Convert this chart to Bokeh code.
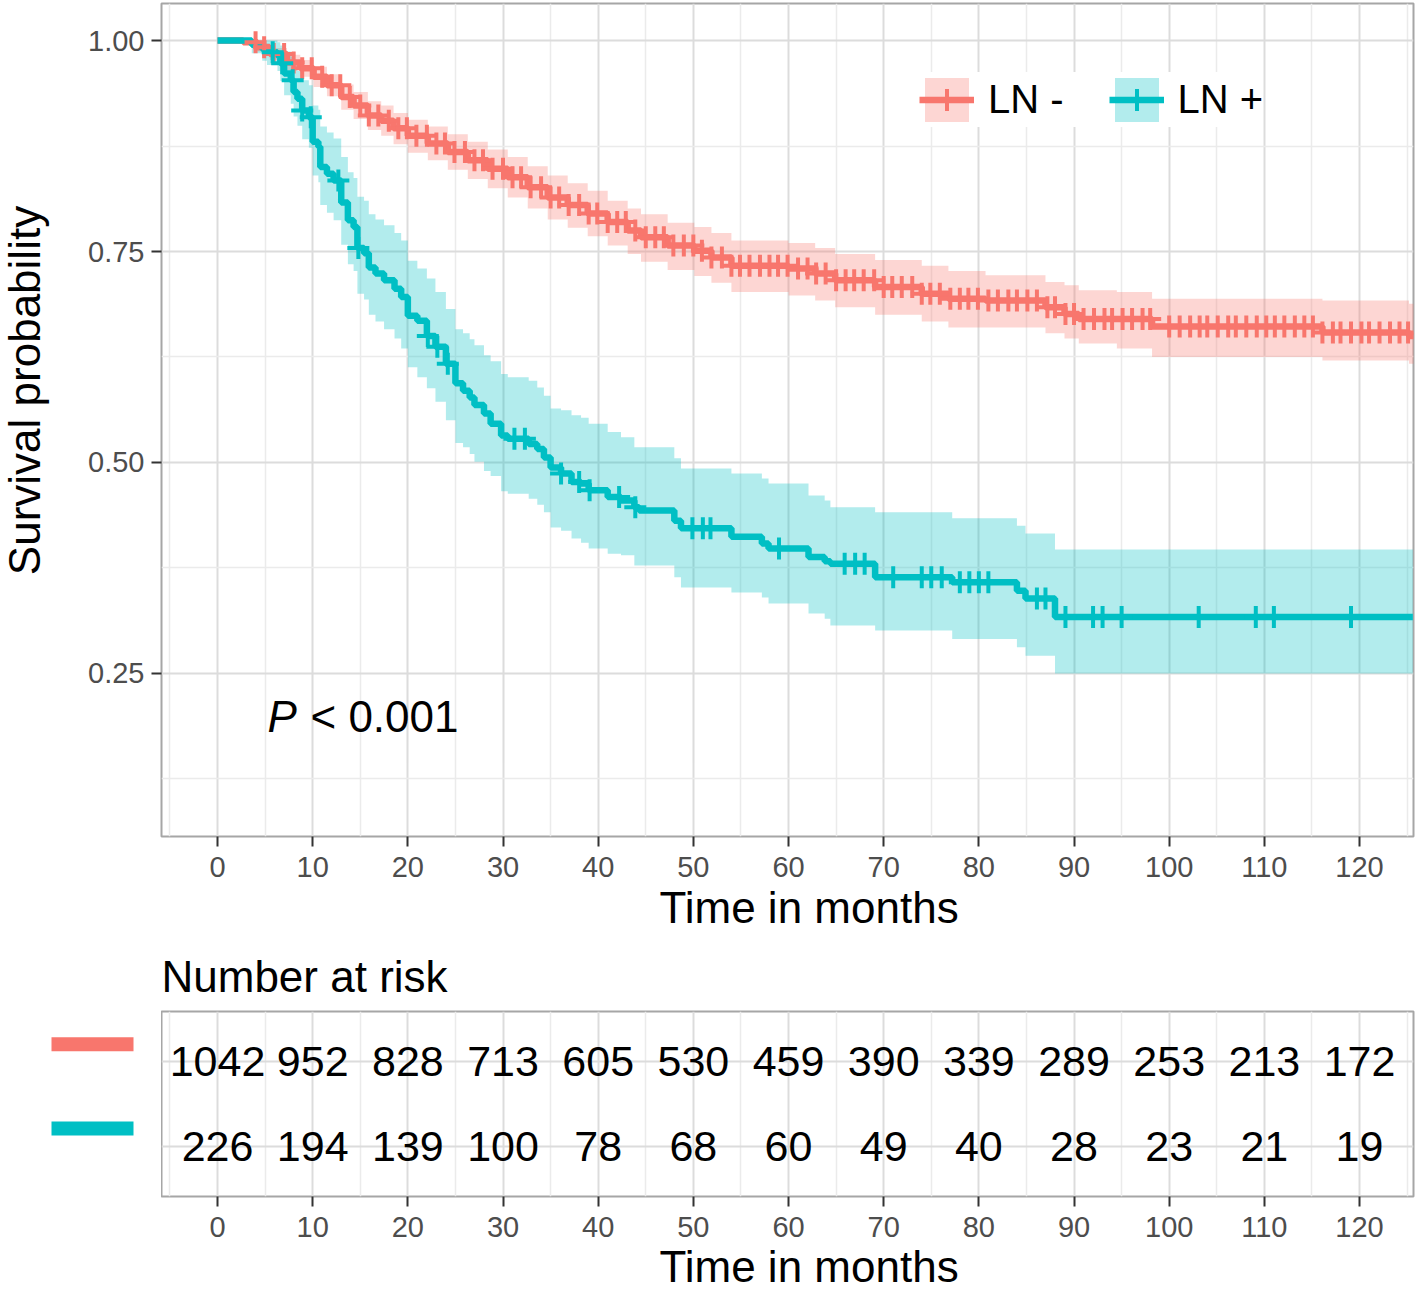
import numpy as np
from bokeh.plotting import figure
from bokeh.models import (ColumnDataSource, Range1d, FactorRange, FixedTicker, CategoricalTicker,
                          Legend, LegendItem, Label, Title, NumeralTickFormatter)
from bokeh.layouts import column, row
from bokeh.embed import file_html
from bokeh.resources import INLINE
from bokeh.core.properties import value
from bokeh.transform import dodge

FONT = "Liberation Sans"
RED = "#F8766D"
TEAL = "#00BFC4"

groups = ["LN -", "LN +"]

# ---------------- LN - (Kaplan-Meier estimate) ----------------
neg_time = [0, 2.7, 4.2, 5.5, 7.3, 8.7, 10.1, 11.5, 13.0, 14.3, 15.8, 17.2, 18.5, 20.0, 22.1,
            24.2, 26.3, 28.4, 30.5, 32.6, 34.7, 36.8, 38.9, 41.0, 43.1, 44.5, 47.3, 50.1, 51.9,
            54.0, 60.0, 62.8, 64.9, 69.1, 74.0, 76.8, 80.7, 87.0, 89.0, 90.5, 94.5, 98.2, 116.1,
            125.2, 125.8]
neg_surv = [1.000, 0.998, 0.992, 0.984, 0.974, 0.967, 0.957, 0.947, 0.933, 0.923, 0.911, 0.905,
            0.896, 0.887, 0.878, 0.868, 0.858, 0.848, 0.838, 0.826, 0.814, 0.805, 0.795, 0.785,
            0.775, 0.767, 0.757, 0.751, 0.743, 0.733, 0.730, 0.724, 0.716, 0.708, 0.700, 0.694,
            0.692, 0.684, 0.676, 0.670, 0.670, 0.661, 0.654, 0.650, 0.650]
neg_upper = [1.000, 1.000, 0.997, 0.991, 0.983, 0.977, 0.969, 0.960, 0.948, 0.939, 0.928, 0.923,
             0.914, 0.906, 0.898, 0.889, 0.880, 0.871, 0.862, 0.851, 0.840, 0.831, 0.822, 0.810,
             0.801, 0.794, 0.784, 0.779, 0.772, 0.763, 0.760, 0.754, 0.747, 0.740, 0.733, 0.727,
             0.722, 0.714, 0.710, 0.704, 0.702, 0.694, 0.692, 0.688, 0.688]
neg_lower = [1.000, 0.995, 0.987, 0.977, 0.965, 0.957, 0.945, 0.934, 0.918, 0.907, 0.894, 0.887,
             0.877, 0.867, 0.858, 0.847, 0.836, 0.825, 0.814, 0.801, 0.788, 0.778, 0.768, 0.757,
             0.747, 0.738, 0.728, 0.721, 0.713, 0.702, 0.698, 0.692, 0.684, 0.675, 0.667, 0.660,
             0.660, 0.653, 0.647, 0.641, 0.635, 0.625, 0.621, 0.617, 0.617]
neg_censor = [4.0, 4.9, 5.9, 7.0, 8.0, 8.9, 9.9, 11.0, 12.0, 12.9, 13.9, 15.0, 15.9, 16.9, 18.0,
              19.0, 19.9, 20.9, 22.0, 23.0, 23.9, 24.9, 26.0, 27.0, 27.9, 28.9, 30.0, 31.0, 31.9,
              32.9, 34.0, 35.0, 35.9, 36.9, 38.0, 39.0, 39.9, 41.0, 42.0, 42.9, 43.9, 45.0, 46.0,
              46.9, 47.9, 49.0, 50.0, 50.9, 51.9, 53.0, 54.0, 54.9, 55.9, 57.0, 58.0, 58.9, 59.9,
              61.0, 62.0, 62.9, 63.9, 65.0, 66.0, 66.9, 67.9, 69.0, 70.0, 70.9, 71.9, 73.0, 74.0,
              74.9, 75.9, 77.0, 78.0, 78.9, 79.9, 81.0, 82.0, 83.1, 84.0, 85.1, 86.1, 87.2, 88.0,
              89.1, 90.0, 91.0, 92.1, 93.2, 94.0, 95.1, 96.1, 97.2, 98.0, 100.0, 101.1, 102.2,
              103.2, 104.0, 105.1, 106.2, 107.0, 108.1, 109.2, 110.2, 111.1, 112.1, 113.2, 114.2,
              115.1, 116.1, 117.2, 118.0, 119.1, 120.2, 121.0, 122.1, 123.2, 124.2, 125.1]

# ---------------- LN + ----------------
pos_time = [0, 3.6, 4.7, 5.2, 6.3, 6.6, 7.0, 7.7, 8.0, 8.4, 8.9, 9.6, 10.0, 10.6, 10.8, 11.5,
            12.2, 13.0, 13.7, 14.3, 14.7, 15.4, 15.9, 16.6, 17.5, 18.6, 19.3, 20.0, 21.0, 22.0,
            22.9, 24.0, 25.0, 25.8, 26.5, 27.0, 28.0, 28.7, 29.8, 30.5, 32.7, 33.6, 34.3, 35.0,
            36.1, 37.2, 38.2, 39.0, 41.0, 42.4, 43.8, 44.3, 48.0, 48.7, 54.0, 57.2, 57.9, 62.1,
            63.8, 64.4, 69.1, 77.2, 84.0, 84.9, 88.0, 125.6]
pos_surv = [1.000, 0.995, 0.990, 0.986, 0.982, 0.973, 0.961, 0.953, 0.939, 0.931, 0.917, 0.909,
            0.880, 0.874, 0.850, 0.842, 0.834, 0.808, 0.787, 0.779, 0.754, 0.748, 0.731, 0.724,
            0.716, 0.706, 0.696, 0.674, 0.668, 0.650, 0.637, 0.617, 0.594, 0.585, 0.577, 0.568,
            0.558, 0.546, 0.532, 0.528, 0.522, 0.516, 0.506, 0.494, 0.487, 0.477, 0.475, 0.467,
            0.459, 0.455, 0.447, 0.443, 0.431, 0.422, 0.412, 0.404, 0.398, 0.388, 0.383, 0.380,
            0.364, 0.358, 0.348, 0.339, 0.317, 0.317]
pos_upper = [1.000, 1.000, 1.000, 1.000, 0.998, 0.994, 0.987, 0.981, 0.970, 0.964, 0.953, 0.947,
             0.923, 0.918, 0.898, 0.891, 0.884, 0.862, 0.844, 0.837, 0.815, 0.810, 0.794, 0.788,
             0.781, 0.772, 0.763, 0.739, 0.730, 0.718, 0.702, 0.682, 0.658, 0.653, 0.646, 0.639,
             0.627, 0.620, 0.605, 0.601, 0.597, 0.589, 0.579, 0.564, 0.562, 0.556, 0.553, 0.546,
             0.536, 0.530, 0.518, 0.518, 0.505, 0.493, 0.487, 0.481, 0.475, 0.461, 0.455, 0.447,
             0.441, 0.434, 0.425, 0.416, 0.397, 0.397]
pos_lower = [1.000, 0.985, 0.976, 0.971, 0.964, 0.952, 0.935, 0.925, 0.910, 0.899, 0.883, 0.873,
             0.840, 0.832, 0.805, 0.796, 0.787, 0.758, 0.735, 0.727, 0.700, 0.693, 0.675, 0.667,
             0.658, 0.647, 0.635, 0.613, 0.601, 0.588, 0.572, 0.550, 0.523, 0.518, 0.510, 0.501,
             0.490, 0.484, 0.466, 0.463, 0.457, 0.450, 0.441, 0.423, 0.419, 0.410, 0.405, 0.398,
             0.392, 0.390, 0.378, 0.378, 0.364, 0.352, 0.346, 0.340, 0.333, 0.321, 0.315, 0.307,
             0.301, 0.291, 0.281, 0.271, 0.250, 0.250]
pos_censor = [5.8, 6.8, 7.9, 8.9, 9.8, 12.7, 14.8, 22.1, 23.1, 24.2, 31.2, 32.3, 36.1, 38.0, 39.1,
              42.2, 43.9, 49.9, 51.0, 51.8, 59.0, 65.9, 67.0, 68.0, 71.0, 74.0, 75.0, 76.1, 78.0,
              79.0, 80.0, 81.0, 86.1, 87.0, 89.1, 92.0, 93.0, 95.0, 103.1, 109.1, 111.0, 119.1]

# ---------------- Number at risk ----------------
risk_times = [0, 10, 20, 30, 40, 50, 60, 70, 80, 90, 100, 110, 120]
risk_neg = [1042, 952, 828, 713, 605, 530, 459, 390, 339, 289, 253, 213, 172]
risk_pos = [226, 194, 139, 100, 78, 68, 60, 49, 40, 28, 23, 21, 19]

x_major = [0, 10, 20, 30, 40, 50, 60, 70, 80, 90, 100, 110, 120]
x_minor = [-5, 5, 15, 25, 35, 45, 55, 65, 75, 85, 95, 105, 115, 125]
y_major = [0.25, 0.50, 0.75, 1.00]
y_minor = [0.125, 0.375, 0.625, 0.875]

x_title = "Time in months"
y_title = "Survival probability"
table_title = "Number at risk"


def surv_at(times, surv, t):
    idx = np.searchsorted(np.asarray(times), np.asarray(t), side="right") - 1
    return [float(v) for v in np.asarray(surv)[idx]]


def style_axis(ax, standoff=10):
    ax.axis_line_color = None
    ax.major_tick_line_color = "#333333"
    ax.major_tick_line_width = 2
    ax.major_tick_out = 10
    ax.major_tick_in = 0
    ax.minor_tick_out = 0
    ax.minor_tick_in = 0
    ax.major_label_text_font = FONT
    ax.major_label_text_font_size = "29px"
    ax.major_label_text_color = "#4D4D4D"
    ax.major_label_standoff = standoff


def style_grid(p):
    p.xgrid.ticker = FixedTicker(ticks=x_major, minor_ticks=x_minor)
    p.xgrid.grid_line_color = "#DCDCDC"
    p.xgrid.grid_line_width = 2
    p.xgrid.minor_grid_line_color = "#EBEBEB"
    p.xgrid.minor_grid_line_width = 1.5
    p.outline_line_color = "#A6A6A6"
    p.outline_line_width = 2
    p.background_fill_color = "white"
    p.border_fill_color = "white"


def blank(p):
    p.axis.visible = False
    p.grid.visible = False
    p.outline_line_color = None
    p.background_fill_color = "white"
    p.border_fill_color = "white"


def x_title_obj(standoff):
    return Title(text=x_title, align="left", offset=498, standoff=standoff,
                 text_font=FONT, text_font_size="44px", text_font_style="normal",
                 text_color="black")


x_rng = Range1d(-5.884, 125.67)
TOP_H = 937

# ---------------- survival plot ----------------
p1 = figure(frame_width=1252, frame_height=833, x_range=x_rng,
            y_range=Range1d(0.05687, 1.04384),
            min_border_left=101, min_border_right=3, min_border_top=3, min_border_bottom=101,
            output_backend="svg", toolbar_location=None)
style_grid(p1)
p1.yaxis.ticker = FixedTicker(ticks=y_major, minor_ticks=y_minor)
p1.xaxis.ticker = FixedTicker(ticks=x_major, minor_ticks=x_minor)
p1.yaxis.formatter = NumeralTickFormatter(format="0.00")
p1.ygrid.grid_line_color = "#DCDCDC"
p1.ygrid.grid_line_width = 2
p1.ygrid.minor_grid_line_color = "#EBEBEB"
p1.ygrid.minor_grid_line_width = 1.5
style_axis(p1.xaxis[0], 10)
style_axis(p1.yaxis[0], 7)

src_neg = ColumnDataSource(dict(t=neg_time, s=neg_surv, lo=neg_lower, up=neg_upper))
src_pos = ColumnDataSource(dict(t=pos_time, s=pos_surv, lo=pos_lower, up=pos_upper))
cen_neg = ColumnDataSource(dict(t=neg_censor, s=surv_at(neg_time, neg_surv, neg_censor)))
cen_pos = ColumnDataSource(dict(t=pos_censor, s=surv_at(pos_time, pos_surv, pos_censor)))

band_neg = p1.varea_step(x="t", y1="lo", y2="up", step_mode="after", source=src_neg,
                         fill_color=RED, fill_alpha=0.3)
band_pos = p1.varea_step(x="t", y1="lo", y2="up", step_mode="after", source=src_pos,
                         fill_color=TEAL, fill_alpha=0.3)
line_neg = p1.step(x="t", y="s", mode="after", source=src_neg, line_color=RED, line_width=6.5)
line_pos = p1.step(x="t", y="s", mode="after", source=src_pos, line_color=TEAL, line_width=6.5)
mark_neg = p1.scatter(x="t", y="s", source=cen_neg, marker="cross", size=22,
                      line_color=RED, line_width=4)
mark_pos = p1.scatter(x="t", y="s", source=cen_pos, marker="cross", size=22,
                      line_color=TEAL, line_width=4)

legend = Legend(items=[LegendItem(label=groups[0], renderers=[band_neg, line_neg, mark_neg]),
                       LegendItem(label=groups[1], renderers=[band_pos, line_pos, mark_pos])],
                orientation="horizontal", location=(758, 709), glyph_width=55, glyph_height=55,
                label_standoff=14, spacing=45, padding=20, margin=0,
                label_text_font=FONT, label_text_font_size="40px", label_text_color="black",
                background_fill_color="white", background_fill_alpha=1.0,
                border_line_color=None)
p1.add_layout(legend)

p1.add_layout(Label(x=5.25, y=0.1986, text="P", text_font=FONT, text_font_size="44px",
                    text_font_style="italic", text_color="black", text_baseline="middle"))
p1.add_layout(Label(x=5.25, y=0.1986, x_offset=43, text="< 0.001", text_font=FONT,
                    text_font_size="44px", text_color="black", text_baseline="middle"))

p1.add_layout(x_title_obj(2), "below")

# y-axis title in a narrow strip left of the plot (its frame is aligned with p1's frame)
pl = figure(width=60, height=TOP_H, x_range=Range1d(0, 60), y_range=Range1d(836, 3),
            min_border=0, output_backend="svg", toolbar_location=None)
blank(pl)
pl.text(x=[24], y=[390], text=[y_title], angle=np.pi / 2, text_font=value(FONT),
        text_font_size="44px", text_align="center", text_baseline="middle",
        text_color="black")

# ---------------- risk table ----------------
y_fac = FactorRange(factors=[groups[1], groups[0]], range_padding=0.1,
                    range_padding_units="absolute")

p2 = figure(frame_width=1252, frame_height=185, x_range=x_rng, y_range=y_fac,
            min_border_left=0, min_border_right=3, min_border_top=74, min_border_bottom=94,
            output_backend="svg", toolbar_location=None)
style_grid(p2)
p2.xaxis.ticker = FixedTicker(ticks=x_major, minor_ticks=x_minor)
style_axis(p2.xaxis[0], 10)
p2.yaxis.visible = False
p2.ygrid.ticker = CategoricalTicker()
p2.ygrid.grid_line_color = "#DCDCDC"
p2.ygrid.grid_line_width = 2
p2.title.text = table_title
p2.title.align = "left"
p2.title.text_font = FONT
p2.title.text_font_size = "44px"
p2.title.text_font_style = "normal"
p2.title.text_color = "black"
p2.title.standoff = 22
p2.add_layout(x_title_obj(0), "below")

risk_src = ColumnDataSource(dict(
    t=risk_times + risk_times,
    g=[groups[0]] * len(risk_times) + [groups[1]] * len(risk_times),
    n=[str(v) for v in risk_neg + risk_pos]))
p2.text(x="t", y="g", text="n", source=risk_src, text_font=value(FONT),
        text_font_size="43px", text_align="center", text_baseline="middle", text_color="black")

# colour keys left of the risk table
KEY_X = 92
pb = figure(frame_width=161, frame_height=185, x_range=Range1d(0, 161), y_range=y_fac,
            min_border_left=0, min_border_right=0, min_border_top=74, min_border_bottom=94,
            output_backend="svg", toolbar_location=None)
blank(pb)
key_src = ColumnDataSource(dict(g=groups, c=[RED, TEAL], x=[KEY_X, KEY_X]))
pb.rect(x="x", y=dodge("g", 0.21, range=y_fac), width=82, height=14, width_units="screen",
        height_units="screen", source=key_src, fill_color="c", line_color=None)

layout = column(row(pl, p1), row(pb, p2))
open("out.html", "w").write(file_html(layout, INLINE))
